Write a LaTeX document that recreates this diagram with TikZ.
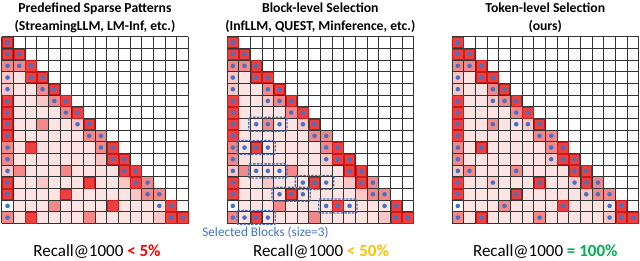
\documentclass[tikz,border=0pt]{standalone}
\usepackage{fontspec}
\setmainfont{Carlito}
\usetikzlibrary{positioning, calc}

\definecolor{attnD}{RGB}{238,62,62}
\definecolor{attnDline}{RGB}{200,28,28}
\definecolor{attnM}{RGB}{244,136,136}
\definecolor{attnP}{RGB}{250,198,198}
\definecolor{attnL}{RGB}{253,228,226}
\definecolor{dotblue}{RGB}{68,114,196}
\definecolor{recallred}{RGB}{255,0,0}
\definecolor{recallorange}{RGB}{255,192,0}
\definecolor{recallgreen}{RGB}{0,176,80}

% attention map shared by the three panels: row/column/shade
\newcommand{\attncells}{1/1/D, 2/1/D, 2/2/D, 3/1/M, 3/2/M, 3/3/D, 4/1/P, 4/3/D, 4/4/D,
  5/1/P, 5/4/M, 5/5/D, 6/1/D, 6/4/P, 6/5/M, 6/6/D, 7/1/D, 7/6/M, 7/7/D,
  8/1/D, 8/4/M, 8/7/P, 8/8/D, 9/1/D, 9/8/M, 9/9/M, 10/1/M, 10/3/D, 10/9/M, 10/10/D,
  11/1/M, 11/9/P, 11/10/D, 11/11/D, 12/1/P, 12/2/M, 12/6/M, 12/11/D, 12/12/D,
  13/1/D, 13/4/P, 13/8/D, 13/11/P, 13/12/D, 13/13/M, 14/1/D, 14/6/D, 14/12/P, 14/13/M, 14/14/M,
  15/1/W, 15/5/M, 15/10/D, 15/15/D, 16/1/M, 16/3/D, 16/8/M, 16/14/P, 16/15/D, 16/16/D}

% one 16x16 causal map with sink + local dots
\newcommand{\drawattn}{%
  \foreach \r in {1,...,16}
    \foreach \c in {1,...,\r}
      \fill[attnL] (\c-1,\r-1) rectangle (\c,\r);
  \foreach \r/\c/\s in \attncells
    \fill[wgt\s] (\c-1,\r-1) rectangle (\c,\r);
  \foreach \i in {0,...,16} {
    \draw[gridline] (\i,0) -- (\i,16);
    \draw[gridline] (0,\i) -- (16,\i);
  }
  \foreach \r/\c/\s in \attncells
    \path[rim\s] ($(\c-1,\r-1)+(.05,.05)$) rectangle ($(\c,\r)-(.05,.05)$);
  \foreach \r in {1,...,16} {
    \fill[dot] (.5,\r-.5) circle (2.3pt);
    \fill[dot] (\r-.5,\r-.5) circle (2.3pt);
  }
  \foreach \r in {3,...,16}
    \fill[dot] (\r-1.5,\r-.5) circle (2.3pt);
}

\begin{document}
\begin{tikzpicture}[
    x=1pt, y=-1pt,
    wgtD/.style={fill=attnD},
    wgtM/.style={fill=attnM},
    wgtP/.style={fill=attnP},
    wgtW/.style={fill=white},
    rimD/.style={draw=attnDline, line width=.6pt},
    rimM/.style={},
    rimP/.style={},
    rimW/.style={},
    gridline/.style={draw=black!80, line width=.7pt},
    dot/.style={fill=dotblue},
    blockbox/.style={draw=dotblue, line width=1.3pt, dash pattern=on 2.5pt off 1.3pt, rounded corners=1pt},
    titletext/.style={font=\bfseries\fontsize{13.7}{16}\selectfont, inner sep=0pt, text height=10pt, text depth=3.5pt},
    recalltext/.style={font=\fontsize{17}{20}\selectfont, inner sep=0pt, anchor=base}
]
\useasboundingbox (0,0) rectangle (640,261);

% predefined sparse patterns
\begin{scope}[shift={(1.7,36.7)}, x=11.67pt, y=-11.67pt]
  \drawattn
\end{scope}

% block-level selection
\begin{scope}[shift={(227,36.7)}, x=11.67pt, y=-11.67pt]
  \drawattn
  \foreach \r/\c in {6/4, 8/3, 8/4, 8/5, 10/2, 10/3, 10/4, 11/9, 12/3, 12/4, 12/5, 13/7, 13/8, 13/9,
      14/5, 14/6, 14/7, 15/9, 15/10, 15/11, 16/2, 16/3, 16/4}
    \fill[dot] (\c-.5,\r-.5) circle (2.3pt);
  \foreach \r/\c in {8/3, 10/2, 12/3, 13/7, 14/5, 15/9, 16/2}
    \draw[blockbox] ($(\c-1,\r-1)+(-.14,-.1)$) rectangle ($(\c+2,\r)+(.14,.1)$);
\end{scope}

% token-level selection
\begin{scope}[shift={(452,36.7)}, x=11.67pt, y=-11.67pt]
  \drawattn
  \foreach \r/\c in {6/4, 8/4, 8/6, 10/3, 11/9, 12/2, 12/6, 13/4, 13/8, 13/11, 14/6, 14/12,
      15/5, 15/10, 16/3, 16/8, 16/14}
    \fill[dot] (\c-.5,\r-.5) circle (2.3pt);
\end{scope}

\node[titletext, anchor=base] (predTitle) at (95,12.8) {Predefined Sparse Patterns};
\node[titletext, below=3.7pt of predTitle] (predSub) {(StreamingLLM, LM-Inf, etc.)};
\node[titletext, anchor=base] (blockTitle) at (320.3,12.8) {Block-level Selection};
\node[titletext, below=3.7pt of blockTitle] (blockSub) {(InfLLM, QUEST, Minference, etc.)};
\node[titletext, anchor=base] (tokenTitle) at (545.3,12.8) {Token-level Selection};
\node[titletext, below=3.7pt of tokenTitle] (tokenSub) {(ours)};

\node[font=\fontsize{13.2}{15}\selectfont, text=dotblue, inner sep=0pt, anchor=base] (blockNote) at (265.5,236.5) {Selected Blocks (size=3)};

\node[recalltext] (predRecall) at (97,256.5) {Recall@1000 \textcolor{recallred}{\textbf{< 5\%}}};
\node[recalltext] (blockRecall) at (321,256.5) {Recall@1000 \textcolor{recallorange}{\textbf{< 50\%}}};
\node[recalltext] (tokenRecall) at (545.3,256.5) {Recall@1000 \textcolor{recallgreen}{\textbf{= 100\%}}};

\end{tikzpicture}
\end{document}
